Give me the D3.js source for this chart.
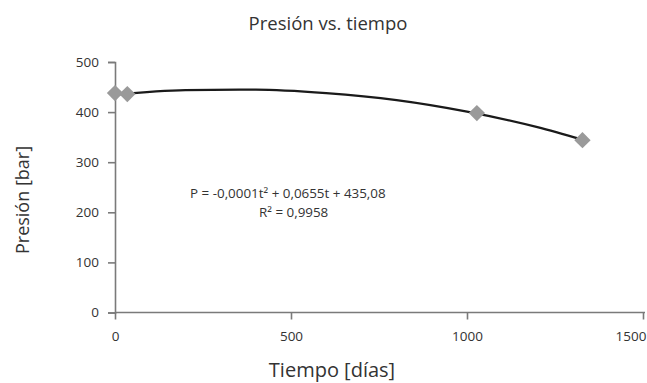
<!DOCTYPE html>
<html><head><meta charset="utf-8">
<script src="https://cdn.jsdelivr.net/npm/d3@7"></script>
<style>body{margin:0;background:#fff}svg{display:block}text{font-family:"Open Sans",sans-serif;fill:#333}</style>
</head><body><svg id="c" width="647" height="383"></svg>
<script>
const days = [0, 35, 1028, 1328];
const pressure = [438, 436, 398, 344];
const trendT = [0, 200, 400, 600, 800, 1000, 1200, 1328];
const trendP = [435, 444, 445, 438, 424, 401, 370, 345];
const xTicks = [0, 500, 1000, 1500];
const yTicks = [0, 100, 200, 300, 400, 500];
const title = "Presión vs. tiempo";
const xTitle = "Tiempo [días]";
const yTitle = "Presión [bar]";
const eqLines = ["P = -0,0001t² + 0,0655t + 435,08", "R² = 0,9958"];

const svg = d3.select("#c");
const x = d3.scaleLinear().domain([0, 1500]).range([115, 643]);
const y = d3.scaleLinear().domain([0, 500]).range([312.5, 62]);
const axisColor = "#7a7a7a";

const xa = svg.append("g").attr("transform", "translate(0,312.5)")
  .call(d3.axisBottom(x).tickValues(xTicks).tickSize(7).tickPadding(12).tickFormat(d3.format("d")));
const ya = svg.append("g").attr("transform", "translate(115,0)")
  .call(d3.axisLeft(y).tickValues(yTicks).tickSize(7).tickPadding(9).tickFormat(d3.format("d")));
[xa, ya].forEach(g => {
  g.selectAll("path,line").attr("stroke", axisColor).attr("stroke-width", 1.6);
  g.selectAll("text").style("font-family", '"Open Sans",sans-serif').style("font-size", "13.5px").attr("fill", "#333");
});
xa.select(".domain").attr("d", `M${x(0)},0H${x(1500)+2}`);
xa.selectAll(".tick text").filter(d => d === 1500).attr("text-anchor", "end").attr("x", 646 - x(1500));

const line = d3.line().x((d,i) => x(trendT[i])).y((d,i) => y(trendP[i])).curve(d3.curveMonotoneX);
svg.append("path").datum(trendT).attr("d", line).attr("fill", "none").attr("stroke", "#1a1a1a").attr("stroke-width", 2.2);

svg.selectAll(".pt").data(days).enter().append("path")
  .attr("transform", (d,i) => `translate(${x(d)},${y(pressure[i])})`)
  .attr("d", d3.symbol().type(d3.symbolDiamond2).size(170))
  .attr("fill", "#9a9a9a");

svg.append("text").attr("x", 328).attr("y", 30).attr("text-anchor", "middle").style("font-size", "18.5px").text(title);
svg.append("text").attr("x", 332).attr("y", 377).attr("text-anchor", "middle").style("font-size", "20px").text(xTitle);
svg.append("text").attr("transform", "translate(29,200) rotate(-90)").attr("text-anchor", "middle").style("font-size", "18px").text(yTitle);
svg.append("text").attr("x", 190).attr("y", 198).style("font-size", "13.4px").text(eqLines[0]);
svg.append("text").attr("x", 259).attr("y", 217).style("font-size", "13.4px").text(eqLines[1]);
</script></body></html>
